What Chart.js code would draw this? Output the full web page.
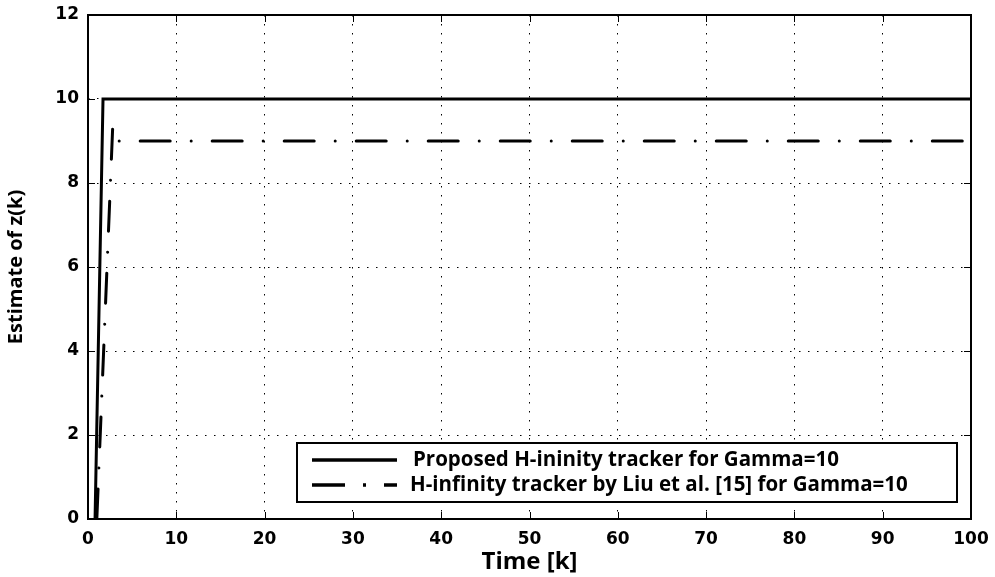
<!DOCTYPE html>
<html>
<head>
<meta charset="utf-8">
<script src="https://cdn.jsdelivr.net/npm/chart.js@4.4.1/dist/chart.umd.min.js"></script>
<style>
  html, body { margin: 0; padding: 0; background: #fff; }
  #wrap { width: 995px; height: 577px; }
</style>
</head>
<body>
<div id="wrap"><canvas id="c" width="995" height="577"></canvas></div>
<script>
// Time samples and estimated z(k) for both trackers
const timeProposed = [0.8, 1.7, 100];
const zProposed    = [0, 10, 10];
const timeLiu      = [1.0, 2.8, 3.2, 100];
const zLiu         = [0, 9.35, 9.0, 9.0];

const xTicks = [0, 10, 20, 30, 40, 50, 60, 70, 80, 90, 100];
const yTicks = [0, 2, 4, 6, 8, 10, 12];

const seriesLabels = [
  'Proposed H-ininity tracker for Gamma=10',
  'H-infinity tracker by Liu et al. [15] for Gamma=10'
];

const toPoints = (xs, ys) => xs.map((x, i) => ({ x, y: ys[i] }));

const tickFont = { family: 'DejaVu Sans', weight: 'bold', size: 17 };
const dashDot = [30, 21, 0.01, 21];

// Frame, inward tick marks and boxed legend inside the plot area
const framePlugin = {
  id: 'frame',
  afterDatasetsDraw(chart) {
    const { ctx, chartArea: a, scales } = chart;
    ctx.save();
    ctx.strokeStyle = '#000';
    ctx.lineWidth = 1;
    const tl = 7;
    xTicks.forEach(v => {
      const px = Math.round(scales.x.getPixelForValue(v)) + 0.5;
      ctx.beginPath();
      ctx.moveTo(px, a.bottom); ctx.lineTo(px, a.bottom - tl);
      ctx.moveTo(px, a.top); ctx.lineTo(px, a.top + tl);
      ctx.stroke();
    });
    yTicks.forEach(v => {
      const py = Math.round(scales.y.getPixelForValue(v)) + 0.5;
      ctx.beginPath();
      ctx.moveTo(a.left, py); ctx.lineTo(a.left + tl, py);
      ctx.moveTo(a.right, py); ctx.lineTo(a.right - tl, py);
      ctx.stroke();
    });
    ctx.lineWidth = 2;
    ctx.strokeRect(a.left, a.top, a.right - a.left, a.bottom - a.top);

    // legend box
    const bx = a.left + 209, by = a.bottom - 76, bw = a.right - 14 - bx, bh = 59;
    ctx.fillStyle = '#fff';
    ctx.fillRect(bx, by, bw, bh);
    ctx.lineWidth = 2;
    ctx.strokeRect(bx, by, bw, bh);
    ctx.font = 'bold 20.5px "Open Sans"';
    ctx.textBaseline = 'middle';
    ctx.fillStyle = '#000';
    const rows = [by + 17, by + 42];
    chart.data.datasets.forEach((ds, i) => {
      const y = rows[i];
      ctx.lineWidth = 3.5;
      ctx.lineCap = 'butt';
      ctx.setLineDash(i === 0 ? [] : [33, 18, 3, 18]);
      ctx.beginPath();
      ctx.moveTo(bx + 15, y); ctx.lineTo(bx + 100, y);
      ctx.stroke();
      ctx.setLineDash([]);
      ctx.fillText(ds.label, bx + (i === 0 ? 116 : 113), y);
    });
    ctx.restore();
  }
};

new Chart(document.getElementById('c'), {
  type: 'scatter',
  data: {
    datasets: [
      {
        label: seriesLabels[0],
        data: toPoints(timeProposed, zProposed),
        showLine: true,
        borderColor: '#000',
        borderWidth: 3,
        pointRadius: 0,
        fill: false
      },
      {
        label: seriesLabels[1],
        data: toPoints(timeLiu, zLiu),
        showLine: true,
        borderColor: '#000',
        borderWidth: 3,
        borderDash: dashDot,
        borderCapStyle: 'round',
        pointRadius: 0,
        fill: false
      }
    ]
  },
  options: {
    responsive: false,
    animation: false,
    devicePixelRatio: 1,
    layout: { padding: { top: 15, right: 24, left: 0, bottom: 0 } },
    plugins: { legend: { display: false }, tooltip: { enabled: false } },
    scales: {
      x: {
        type: 'linear',
        min: 0, max: 100,
        afterBuildTicks: s => { s.ticks = xTicks.map(v => ({ value: v })); },
        afterFit: s => { s.height = 58; s.paddingRight = 0; s.paddingLeft = 0; },
        ticks: { color: '#000', font: tickFont, padding: 10, maxRotation: 0 },
        grid: { color: '#000', lineWidth: 1, drawTicks: false },
        border: { display: false, dash: [1.5, 7.5] },
        title: { display: true, text: 'Time [k]', color: '#000', font: { family: 'Open Sans', weight: 'bold', size: 24 }, padding: { top: 0, bottom: 0 } }
      },
      y: {
        type: 'linear',
        min: 0, max: 12,
        afterBuildTicks: s => { s.ticks = yTicks.map(v => ({ value: v })); },
        afterFit: s => { s.width = 88; s.paddingTop = 0; s.paddingBottom = 0; },
        ticks: { color: '#000', font: tickFont, padding: 9 },
        grid: { color: '#000', lineWidth: 1, drawTicks: false },
        border: { display: false, dash: [1.5, 7.5] },
        title: { display: true, text: 'Estimate of z(k)', color: '#000', font: { family: 'Open Sans', weight: 'bold', size: 20 }, padding: { top: 4, bottom: 4 } }
      }
    }
  },
  plugins: [framePlugin]
});
</script>
</body>
</html>
